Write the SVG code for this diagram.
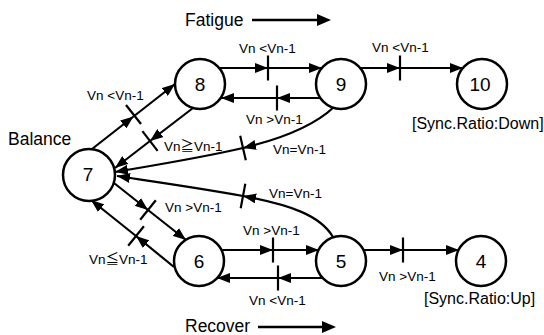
<svg xmlns="http://www.w3.org/2000/svg" width="544" height="335" viewBox="0 0 544 335">
<style>
.node circle{fill:#fff;stroke:#000;stroke-width:2.5}
.node text{font-family:"Liberation Sans",Arial,sans-serif;font-size:19px;text-anchor:middle;fill:#000}
.edge{fill:none;stroke:#000;stroke-width:2.2;marker-end:url(#ah)}
.tick{stroke:#000;stroke-width:2.2}
.lbl{font-family:"Liberation Sans",Arial,"Noto Sans CJK JP",sans-serif;font-size:13.5px;fill:#000}
.title{font-family:"Liberation Sans",Arial,sans-serif;font-size:17.5px;fill:#000}
.sync{font-family:"Liberation Sans",Arial,sans-serif;font-size:16px;fill:#000}
</style>
<defs>
<marker id="ah" markerUnits="userSpaceOnUse" markerWidth="13" markerHeight="10" refX="13" refY="5" orient="auto">
<path d="M0,0 L13,5 L0,10 Z" fill="#000"/>
</marker>
</defs>
<rect width="544" height="335" fill="#fff"/>

<g id="titles">
<text class="title" x="185" y="26">Fatigue</text>
<line x1="252" y1="20" x2="318" y2="20" stroke="#000" stroke-width="2.5"/>
<polygon points="317,14 331,20 317,26" fill="#000"/>
<text class="title" x="185" y="332">Recover</text>
<line x1="258" y1="327" x2="323" y2="327" stroke="#000" stroke-width="2.5"/>
<polygon points="322,321 336,327 322,333" fill="#000"/>
<text class="title" x="8" y="145">Balance</text>
<text class="sync" x="412" y="129">[Sync.Ratio:Down]</text>
<text class="sync" x="424" y="304">[Sync.Ratio:Up]</text>
</g>

<g id="connectors">
<!-- 7 -> 8 -->
<path class="edge" d="M92,149 L133.5,116.5"/>
<path class="edge" d="M133.5,116.5 L175,84"/>
<line class="tick" x1="126" y1="105" x2="141" y2="124"/>
<!-- 8 -> 7 -->
<path class="edge" d="M193,108 L150,141"/>
<path class="edge" d="M150,141 L115,168"/>
<line class="tick" x1="142.4" y1="131.1" x2="157.6" y2="150.9"/>
<!-- 8 -> 9 -->
<path class="edge" d="M219,68 L268,68"/>
<path class="edge" d="M268,68 L322,68"/>
<line class="tick" x1="268" y1="55.5" x2="268" y2="80.5"/>
<!-- 9 -> 8 -->
<path class="edge" d="M320,98 L277,98"/>
<path class="edge" d="M277,98 L221,98"/>
<line class="tick" x1="277" y1="85.5" x2="277" y2="110.5"/>
<!-- 9 -> 10 -->
<path class="edge" d="M360,68 L400,68"/>
<path class="edge" d="M400,68 L463,68"/>
<line class="tick" x1="400" y1="55.5" x2="400" y2="80.5"/>
<!-- 9 -> 7 -->
<path class="edge" d="M334,107 C315,125 285,138 243,148"/>
<path class="edge" d="M243,148 C200,158 150,166 115,172"/>
<line class="tick" x1="240.2" y1="135.8" x2="245.8" y2="160.2"/>
<!-- 5 -> 7 -->
<path class="edge" d="M333,237 C320,215 290,205 243,196"/>
<path class="edge" d="M243,196 C200,188 150,181 117,176"/>
<line class="tick" x1="245.3" y1="183.7" x2="240.7" y2="208.3"/>
<!-- 7 -> 6 -->
<path class="edge" d="M114,183 L148,210"/>
<path class="edge" d="M148,210 L186,240"/>
<line class="tick" x1="140.2" y1="219.8" x2="155.8" y2="200.2"/>
<!-- 6 -> 7 -->
<path class="edge" d="M174,267 L136,236"/>
<path class="edge" d="M136,236 L91,200"/>
<line class="tick" x1="128.2" y1="245.7" x2="143.9" y2="226.3"/>
<!-- 6 -> 5 -->
<path class="edge" d="M221,250 L273,250"/>
<path class="edge" d="M273,250 L319,250"/>
<line class="tick" x1="273" y1="237.5" x2="273" y2="262.5"/>
<!-- 5 -> 6 -->
<path class="edge" d="M323,278 L278,278"/>
<path class="edge" d="M278,278 L217,278"/>
<line class="tick" x1="278" y1="265.5" x2="278" y2="290.5"/>
<!-- 5 -> 4 -->
<path class="edge" d="M363,250 L403,250"/>
<path class="edge" d="M403,250 L459,250"/>
<line class="tick" x1="403" y1="237.5" x2="403" y2="262.5"/>
</g>

<g id="labels">
<text class="lbl" x="87" y="100">Vn &lt;Vn-1</text>
<text class="lbl" x="164" y="151">Vn≧Vn-1</text>
<text class="lbl" x="239" y="53">Vn &lt;Vn-1</text>
<text class="lbl" x="246" y="124">Vn &gt;Vn-1</text>
<text class="lbl" x="372" y="52">Vn &lt;Vn-1</text>
<text class="lbl" x="273" y="154">Vn=Vn-1</text>
<text class="lbl" x="269" y="198">Vn=Vn-1</text>
<text class="lbl" x="165" y="212">Vn &gt;Vn-1</text>
<text class="lbl" x="89" y="264">Vn≦Vn-1</text>
<text class="lbl" x="243" y="235">Vn &gt;Vn-1</text>
<text class="lbl" x="249" y="305">Vn &lt;Vn-1</text>
<text class="lbl" x="379" y="281">Vn &gt;Vn-1</text>
</g>

<g id="node7" class="node"><circle cx="89" cy="175" r="26"/><text x="88" y="181">7</text></g>
<g id="node8" class="node"><circle cx="200" cy="84" r="25"/><text x="200" y="91">8</text></g>
<g id="node9" class="node"><circle cx="341" cy="84" r="25"/><text x="341" y="91">9</text></g>
<g id="node10" class="node"><circle cx="482" cy="84" r="25"/><text x="480" y="91">10</text></g>
<g id="node6" class="node"><circle cx="199" cy="261" r="25"/><text x="199" y="268">6</text></g>
<g id="node5" class="node"><circle cx="341" cy="261" r="25"/><text x="341" y="268">5</text></g>
<g id="node4" class="node"><circle cx="481" cy="261" r="25"/><text x="481" y="268">4</text></g>
</svg>
